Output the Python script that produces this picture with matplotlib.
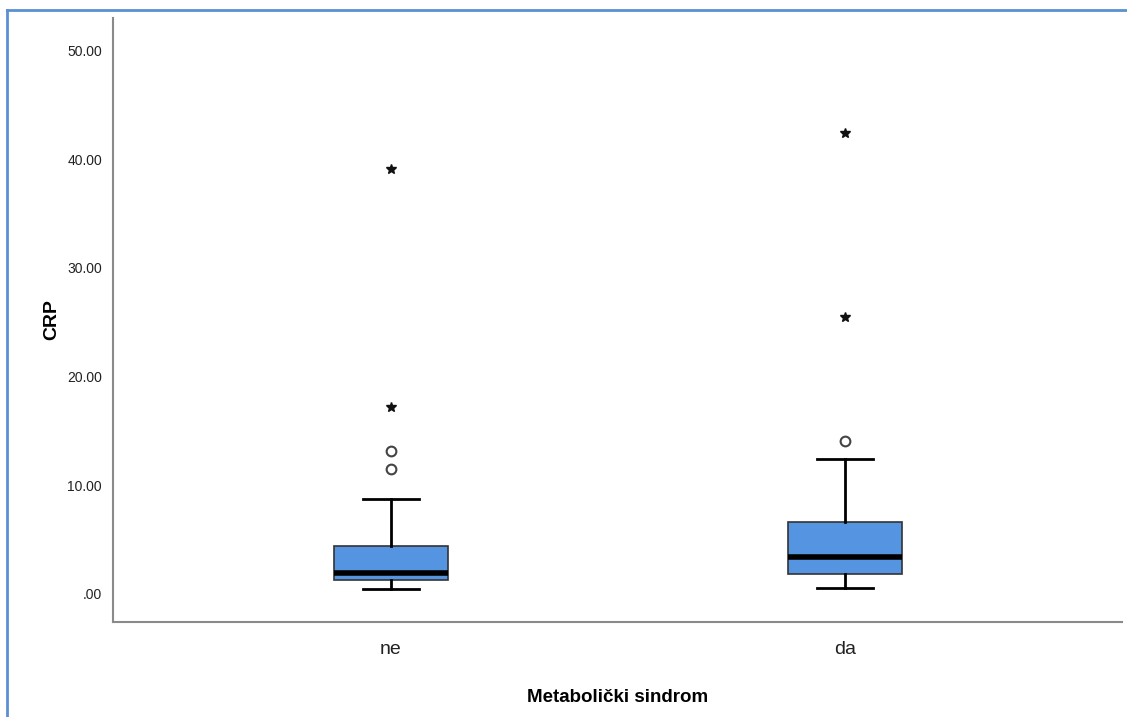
import matplotlib.pyplot as plt
from matplotlib.lines import Line2D

plt.rcParams["font.family"] = ["Liberation Sans", "DejaVu Sans"]

## group labels and five-number summaries
groups = ["ne", "da"]
whis_lo = [0.46, 0.55]
q1 = [1.26, 1.84]
med = [1.96, 3.43]
q3 = [4.42, 6.60]
whis_hi = [8.78, 12.46]

## outliers (circles) and extremes (stars), per group
out_ne = [11.54, 13.17]
out_da = [14.09]
ext_ne = [17.25, 39.1]
ext_da = [25.5, 42.4]

yticks = [0, 10, 20, 30, 40, 50]
ytick_labels = [".00", "10.00", "20.00", "30.00", "40.00", "50.00"]

BOX_BLUE = "#5494e0"
SPINE = "#8a8a8a"
FRAME = "#5b8fd4"

fig = plt.figure(figsize=(11.27, 7.17), dpi=100)
ax = fig.add_axes([0.1003, 0.1325, 0.8953, 0.8424])

stats = []
for i, g in enumerate(groups):
    stats.append(dict(label=g, whislo=whis_lo[i], q1=q1[i], med=med[i], q3=q3[i], whishi=whis_hi[i], fliers=[]))

pos = [1, 2]
ax.bxp(
    stats,
    positions=pos,
    widths=0.253,
    patch_artist=True,
    showfliers=False,
    boxprops=dict(facecolor=BOX_BLUE, edgecolor="#333333", linewidth=1.2),
    medianprops=dict(color="black", linewidth=4, solid_capstyle="butt"),
    whiskerprops=dict(color="black", linewidth=2),
    capprops=dict(color="black", linewidth=2),
    capwidths=0.124,
)

## outliers and extremes
for p, outs, exts in zip(pos, [out_ne, out_da], [ext_ne, ext_da]):
    ax.plot([p] * len(outs), outs, linestyle="none", marker="o", markersize=7,
            markerfacecolor="white", markeredgecolor="#444444", markeredgewidth=1.5)
    ax.plot([p] * len(exts), exts, linestyle="none", marker="*", markersize=7,
            color="#111111")

ax.set_xlim(0.388, 2.61)
ax.set_ylim(-2.58, 53.0)
ax.set_yticks(yticks)
ax.set_yticklabels(ytick_labels)
ax.set_xticks(pos)
ax.set_xticklabels(groups)
ax.tick_params(axis="y", length=0, pad=8, labelsize=10, labelcolor="#222222")
ax.tick_params(axis="x", length=0, pad=14, labelsize=14, labelcolor="#222222")

for s in ["top", "right"]:
    ax.spines[s].set_visible(False)
for s in ["left", "bottom"]:
    ax.spines[s].set_color(SPINE)
    ax.spines[s].set_linewidth(1.5)

ax.set_ylabel("CRP", fontsize=14, fontweight="bold", labelpad=5)
ax.set_xlabel("Metabolički sindrom", fontsize=13.5, fontweight="bold", labelpad=22)

## blue frame (top and left edges visible)
fig.add_artist(Line2D([6.5 / 1127, 6.5 / 1127], [0, 1 - 9.5 / 717], color=FRAME, linewidth=2, transform=fig.transFigure))
fig.add_artist(Line2D([6.5 / 1127, 1], [1 - 9.5 / 717, 1 - 9.5 / 717], color=FRAME, linewidth=2, transform=fig.transFigure))

fig.savefig("out.png", dpi=100)
